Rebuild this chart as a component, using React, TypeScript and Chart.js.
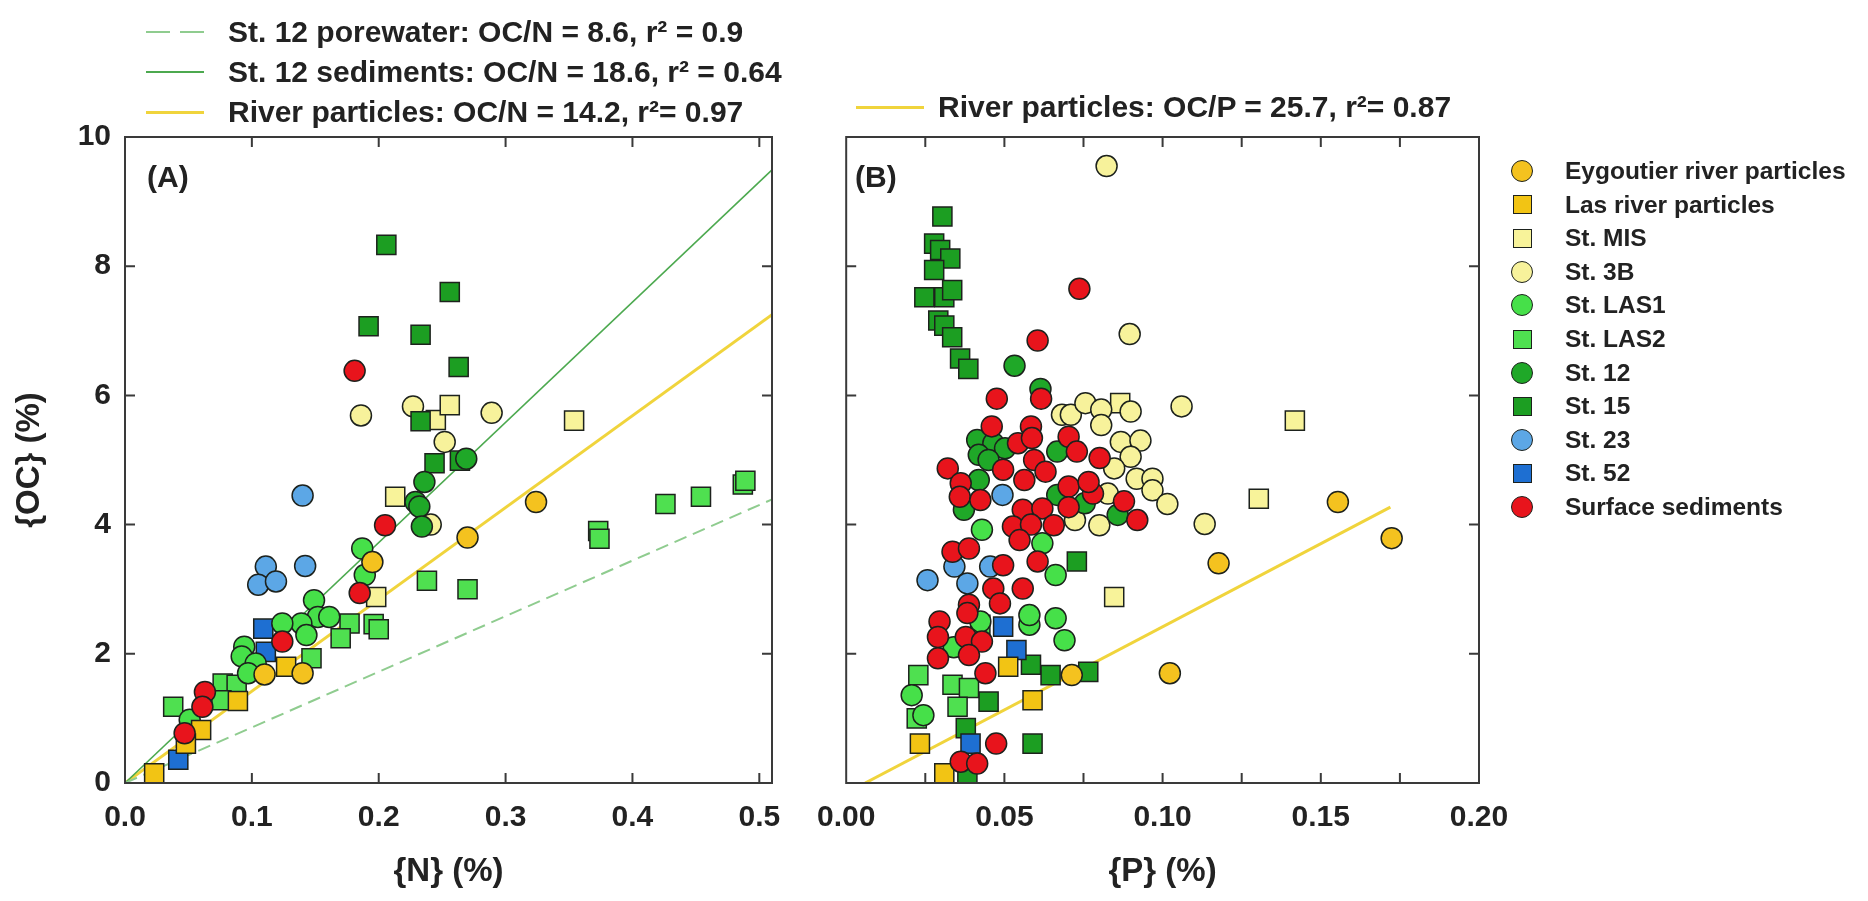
import React, { useEffect, useRef } from "react";
import { Chart, registerables } from "chart.js";

Chart.register(...registerables);

// ---------------- Panel A : {N} (%) vs {OC} (%) ----------------
const eygoutierN = [0.324, 0.27, 0.195, 0.11, 0.14];
const eygoutierOcA = [4.35, 3.8, 3.42, 1.68, 1.7];
const lasN = [0.127, 0.089, 0.06, 0.048, 0.023];
const lasOcA = [1.8, 1.27, 0.82, 0.61, 0.15];
const misN = [0.213, 0.245, 0.256, 0.354, 0.198];
const misOcA = [4.43, 5.62, 5.85, 5.61, 2.88];
const st3bN = [0.186, 0.227, 0.289, 0.252, 0.241];
const st3bOcA = [5.69, 5.83, 5.73, 5.28, 4.0];
const las1N = [0.187, 0.189, 0.149, 0.152, 0.161, 0.139, 0.143, 0.124, 0.094, 0.092, 0.103, 0.097, 0.051];
const las1OcA = [3.63, 3.22, 2.83, 2.57, 2.57, 2.47, 2.29, 2.47, 2.11, 1.96, 1.85, 1.7, 0.98];
const las2N = [0.177, 0.196, 0.2, 0.17, 0.147, 0.077, 0.088, 0.076, 0.038, 0.238, 0.27, 0.373, 0.374, 0.426, 0.454, 0.487, 0.489];
const las2OcA = [2.47, 2.46, 2.38, 2.24, 1.93, 1.54, 1.52, 1.28, 1.18, 3.13, 3.0, 3.9, 3.78, 4.32, 4.43, 4.62, 4.68];
const st12N = [0.236, 0.229, 0.232, 0.234, 0.269];
const st12OcA = [4.66, 4.35, 4.28, 3.97, 5.02];
const st15N = [0.206, 0.256, 0.192, 0.233, 0.263, 0.233, 0.244, 0.264];
const st15OcA = [8.33, 7.6, 7.07, 6.94, 6.44, 5.6, 4.95, 4.99];
const st23N = [0.14, 0.111, 0.142, 0.105, 0.119];
const st23OcA = [4.45, 3.35, 3.36, 3.07, 3.12];
const st52N = [0.109, 0.111, 0.042];
const st52OcA = [2.39, 2.03, 0.36];
const surfN = [0.181, 0.205, 0.185, 0.124, 0.063, 0.061, 0.047];
const surfOcA = [6.38, 3.99, 2.94, 2.19, 1.41, 1.18, 0.77];

// ---------------- Panel B : {P} (%) vs {OC} (%) ----------------
const eygoutierP = [0.1554, 0.1724, 0.1177, 0.1023, 0.0713];
const eygoutierOcB = [4.35, 3.79, 3.4, 1.7, 1.67];
const lasP = [0.0512, 0.0589, 0.0233, 0.031];
const lasOcB = [1.8, 1.28, 0.61, 0.15];
const misP = [0.1418, 0.1304, 0.0847, 0.0866];
const misOcB = [5.61, 4.4, 2.88, 5.88];
const st3bP = [0.0823, 0.0896, 0.106, 0.0682, 0.071, 0.0756, 0.0806, 0.0806, 0.0899, 0.0868, 0.093, 0.0899, 0.0847, 0.0918, 0.0968, 0.0968, 0.0827, 0.08, 0.1015, 0.1133, 0.0723];
const st3bOcB = [9.55, 6.95, 5.83, 5.7, 5.7, 5.88, 5.78, 5.54, 5.75, 5.28, 5.3, 5.05, 4.87, 4.71, 4.71, 4.53, 4.48, 3.99, 4.32, 4.01, 4.07];
const las1P = [0.0662, 0.0579, 0.0579, 0.0662, 0.069, 0.0207, 0.0244, 0.0424, 0.034, 0.062, 0.0429];
const las1OcB = [3.22, 2.45, 2.6, 2.55, 2.21, 1.36, 1.05, 2.5, 2.1, 3.71, 3.92];
const las2P = [0.0228, 0.0223, 0.0336, 0.0388, 0.0352, 0.0424];
const las2OcB = [1.67, 1.0, 1.52, 1.47, 1.18, 2.45];
const st12P = [0.0532, 0.0614, 0.0414, 0.0465, 0.0502, 0.0419, 0.045, 0.0667, 0.0419, 0.0372, 0.0754, 0.0858, 0.0667];
const st12OcB = [6.46, 6.1, 5.31, 5.26, 5.18, 5.08, 5.0, 5.13, 4.69, 4.23, 4.33, 4.15, 4.46];
const st15P = [0.0304, 0.0278, 0.0297, 0.0329, 0.0278, 0.0247, 0.031, 0.0335, 0.0291, 0.031, 0.0335, 0.036, 0.0386, 0.0729, 0.0584, 0.0646, 0.0765, 0.045, 0.0589, 0.0378, 0.0383];
const st15OcB = [8.77, 8.35, 8.25, 8.12, 7.94, 7.52, 7.52, 7.63, 7.16, 7.08, 6.9, 6.57, 6.41, 3.43, 1.83, 1.67, 1.72, 1.26, 0.61, 0.85, 0.07];
const st23P = [0.0494, 0.0257, 0.0342, 0.0383, 0.0455];
const st23OcB = [4.46, 3.14, 3.35, 3.09, 3.35];
const st52P = [0.0496, 0.0538, 0.0393];
const st52OcB = [2.42, 2.06, 0.61];
const surfP = [0.0737, 0.0605, 0.0616, 0.0476, 0.046, 0.0584, 0.0543, 0.0587, 0.0703, 0.0729, 0.0801, 0.0594, 0.063, 0.0496, 0.0563, 0.0321, 0.0362, 0.0359, 0.0424, 0.0703, 0.078, 0.0558, 0.062, 0.0703, 0.0878, 0.092, 0.0527, 0.0584, 0.0656, 0.0548, 0.0336, 0.0388, 0.0496, 0.0605, 0.0465, 0.0558, 0.0486, 0.0388, 0.0383, 0.0295, 0.029, 0.0378, 0.0429, 0.0388, 0.029, 0.044, 0.0474, 0.0362, 0.0414, 0.0766];
const surfOcB = [7.65, 6.85, 5.95, 5.95, 5.52, 5.52, 5.26, 5.34, 5.36, 5.13, 5.03, 5.0, 4.82, 4.85, 4.69, 4.87, 4.64, 4.43, 4.38, 4.59, 4.48, 4.23, 4.25, 4.27, 4.36, 4.07, 3.97, 4.0, 3.99, 3.76, 3.58, 3.63, 3.37, 3.43, 3.01, 3.01, 2.78, 2.76, 2.63, 2.5, 2.26, 2.26, 2.19, 1.98, 1.93, 1.7, 0.61, 0.33, 0.3, 4.66];

// ---------------- Regression lines (end points) ----------------
const porewaterLineN = [0, 0.51];
const porewaterLineOc = [0, 4.39];
const sedimentLineN = [0, 0.51];
const sedimentLineOc = [0, 9.49];
const riverLineN = [0, 0.51];
const riverLineOc = [0, 7.25];
const riverLineP = [0.006, 0.172];
const riverLinePOc = [0, 4.27];

const porewaterLabel = "St. 12 porewater: OC/N = 8.6, r\u00B2 = 0.9";
const sedimentLabel = "St. 12 sediments: OC/N = 18.6, r\u00B2 = 0.64";
const riverNLabel = "River particles: OC/N = 14.2, r\u00B2= 0.97";
const riverPLabel = "River particles: OC/P = 25.7, r\u00B2= 0.87";

// ---------------- Axes ticks ----------------
const ocTicks = [0, 2, 4, 6, 8, 10];
const ocTickLabels = ["0", "2", "4", "6", "8", "10"];
const nTicks = [0, 0.1, 0.2, 0.3, 0.4, 0.5];
const nTickLabels = ["0.0", "0.1", "0.2", "0.3", "0.4", "0.5"];
const pTicks = [0, 0.025, 0.05, 0.075, 0.1, 0.125, 0.15, 0.175, 0.2];
const pTickLabels = ["0.00", "", "0.05", "", "0.10", "", "0.15", "", "0.20"];

// ---------------- Series styles ----------------
const seriesNames = ["Eygoutier river particles", "Las river particles", "St. MIS", "St. 3B", "St. LAS1", "St. LAS2", "St. 12", "St. 15", "St. 23", "St. 52", "Surface sediments"];
const seriesShapes = ["circle", "rect", "rect", "circle", "circle", "rect", "circle", "rect", "circle", "rect", "circle"];
const seriesColors = ["#F4C21F", "#F2C414", "#F8F39A", "#F7F29B", "#46E049", "#4FE050", "#1FA828", "#1C9E22", "#5CA7E6", "#1E6FD2", "#E8141C"];
const seriesDrawOrder = [1, 2, 10, 9, 3, 6, 7, 8, 5, 4, 0];
const seriesA = [[eygoutierN, eygoutierOcA], [lasN, lasOcA], [misN, misOcA], [st3bN, st3bOcA], [las1N, las1OcA], [las2N, las2OcA], [st12N, st12OcA], [st15N, st15OcA], [st23N, st23OcA], [st52N, st52OcA], [surfN, surfOcA]];
const seriesB = [[eygoutierP, eygoutierOcB], [lasP, lasOcB], [misP, misOcB], [st3bP, st3bOcB], [las1P, las1OcB], [las2P, las2OcB], [st12P, st12OcB], [st15P, st15OcB], [st23P, st23OcB], [st52P, st52OcB], [surfP, surfOcB]];

const FONT = "'Liberation Sans', Arial, Helvetica, sans-serif";
const TEXT = "#222222";
const FRAME = "#3a3a3a";
const GREEN_LINE = "#4CA94F";
const GREEN_DASH = "#8FCC8F";
const YELLOW_LINE = "#F0D43C";

const zip = (xs: number[], ys: number[]) => xs.map((x, i) => ({ x, y: ys[i] }));

const pointDatasets = (series: number[][][]) =>
  series.map((s, i) => ({
    label: seriesNames[i],
    data: zip(s[0], s[1]),
    pointStyle: seriesShapes[i],
    pointRadius: seriesShapes[i] === "rect" ? 13.5 : 10.5,
    backgroundColor: seriesColors[i],
    borderColor: "#1d221d",
    borderWidth: 1.5,
    showLine: false,
    order: seriesDrawOrder[i],
  }));

const lineDataset = (label: string, xs: number[], ys: number[], color: string, width: number, dash: number[]) => ({
  label,
  data: zip(xs, ys),
  showLine: true,
  pointRadius: 0,
  borderColor: color,
  backgroundColor: color,
  borderWidth: width,
  borderDash: dash,
  order: 50,
});

const framePlugin = {
  id: "frameTicks",
  afterDatasetsDraw(chart: any) {
    const { ctx, chartArea } = chart;
    const { left, right, top, bottom } = chartArea;
    const xs = chart.scales.x;
    const ys = chart.scales.y;
    const L = 10;
    ctx.save();
    ctx.strokeStyle = FRAME;
    ctx.lineWidth = 2;
    ctx.beginPath();
    xs.ticks.forEach((t: any) => {
      const px = xs.getPixelForValue(t.value);
      if (px <= left + 1 || px >= right - 1) return;
      ctx.moveTo(px, bottom);
      ctx.lineTo(px, bottom - L);
      ctx.moveTo(px, top);
      ctx.lineTo(px, top + L);
    });
    ys.ticks.forEach((t: any) => {
      const py = ys.getPixelForValue(t.value);
      if (py <= top + 1 || py >= bottom - 1) return;
      ctx.moveTo(left, py);
      ctx.lineTo(left + L, py);
      ctx.moveTo(right, py);
      ctx.lineTo(right - L, py);
    });
    ctx.stroke();
    ctx.strokeRect(left, top, right - left, bottom - top);
    ctx.restore();
  },
};

const tickFont = { family: FONT, size: 30, weight: "bold" as const };
const titleFont = { family: FONT, size: 33, weight: "bold" as const };

function xScale(max: number, ticks: number[], labels: string[], title: string) {
  return {
    type: "linear" as const,
    min: 0,
    max,
    afterBuildTicks: (s: any) => {
      s.ticks = ticks.map((v) => ({ value: v }));
    },
    afterFit: (s: any) => {
      s.height = 118;
    },
    ticks: {
      callback: (_v: any, i: number) => labels[i],
      font: tickFont,
      color: TEXT,
      padding: 17,
      maxRotation: 0,
      autoSkip: false,
    },
    grid: { display: false, drawTicks: false },
    border: { display: false },
    title: { display: true, text: title, font: titleFont, color: TEXT, padding: { top: 0, bottom: 9 } },
  };
}

function yScale(showLabels: boolean, width: number) {
  return {
    type: "linear" as const,
    min: 0,
    max: 10,
    afterBuildTicks: (s: any) => {
      s.ticks = ocTicks.map((v) => ({ value: v }));
    },
    afterFit: (s: any) => {
      s.width = width;
    },
    ticks: {
      display: showLabels,
      callback: (_v: any, i: number) => ocTickLabels[i],
      font: tickFont,
      color: TEXT,
      padding: 14,
      autoSkip: false,
    },
    grid: { display: false, drawTicks: false },
    border: { display: false },
    title: { display: showLabels, text: "{OC} (%)", font: titleFont, color: TEXT, padding: { top: 10, bottom: 0 } },
  };
}

function baseOptions(padding: any, x: any, y: any) {
  return {
    responsive: false,
    animation: false as const,
    events: [] as any[],
    layout: { padding },
    plugins: { legend: { display: false }, tooltip: { enabled: false } },
    scales: { x, y },
  };
}

const legendText: React.CSSProperties = {
  position: "absolute",
  font: `bold 30px ${FONT}`,
  color: TEXT,
  whiteSpace: "nowrap",
  lineHeight: "30px",
};

function LineKey({ x, y, w, color, dashed, thick }: any) {
  const style: React.CSSProperties = {
    position: "absolute",
    left: x,
    top: y - (thick ? 1.5 : 1),
    width: w,
    height: thick ? 3 : 2,
    background: dashed ? `repeating-linear-gradient(90deg, ${color} 0 24px, transparent 24px 34px)` : color,
  };
  return <div style={style} />;
}

export default function App() {
  const refA = useRef<HTMLCanvasElement>(null);
  const refB = useRef<HTMLCanvasElement>(null);

  useEffect(() => {
    const chartA = new Chart(refA.current as HTMLCanvasElement, {
      type: "scatter",
      data: {
        datasets: [
          ...pointDatasets(seriesA),
          lineDataset(porewaterLabel, porewaterLineN, porewaterLineOc, GREEN_DASH, 2, [13, 7]),
          lineDataset(sedimentLabel, sedimentLineN, sedimentLineOc, GREEN_LINE, 1.6, []),
          lineDataset(riverNLabel, riverLineN, riverLineOc, YELLOW_LINE, 3, []),
        ] as any,
      },
      options: baseOptions(
        { left: 0, top: 137, right: 28, bottom: 0 },
        xScale(0.51, nTicks, nTickLabels, "{N} (%)"),
        yScale(true, 125)
      ) as any,
      plugins: [framePlugin],
    });
    const chartB = new Chart(refB.current as HTMLCanvasElement, {
      type: "scatter",
      data: {
        datasets: [
          ...pointDatasets(seriesB),
          lineDataset(riverPLabel, riverLineP, riverLinePOc, YELLOW_LINE, 3, []),
        ] as any,
      },
      options: baseOptions(
        { left: 0, top: 137, right: 61, bottom: 0 },
        xScale(0.2, pTicks, pTickLabels, "{P} (%)"),
        yScale(false, 33)
      ) as any,
      plugins: [framePlugin],
    });
    return () => {
      chartA.destroy();
      chartB.destroy();
    };
  }, []);

  const rowY0 = 171;
  const rowStep = 33.6;

  return (
    <div style={{ position: "absolute", left: 0, top: 0, width: 1868, height: 901, background: "#ffffff", overflow: "hidden", fontFamily: FONT }}>
      <canvas ref={refA} width={800} height={901} style={{ position: "absolute", left: 0, top: 0 }} />
      <canvas ref={refB} width={740} height={901} style={{ position: "absolute", left: 800, top: 0 }} />

      {/* top-left line legend */}
      <LineKey x={146} y={32} w={58} color={GREEN_DASH} dashed />
      <div style={{ ...legendText, left: 228, top: 17 }}>{porewaterLabel}</div>
      <LineKey x={146} y={72} w={58} color={GREEN_LINE} />
      <div style={{ ...legendText, left: 228, top: 57 }}>{sedimentLabel}</div>
      <LineKey x={146} y={112} w={58} color={YELLOW_LINE} thick />
      <div style={{ ...legendText, left: 228, top: 97 }}>{riverNLabel}</div>

      {/* panel B line legend */}
      <LineKey x={856} y={107} w={68} color={YELLOW_LINE} thick />
      <div style={{ ...legendText, left: 938, top: 92 }}>{riverPLabel}</div>

      {/* panel letters */}
      <div style={{ ...legendText, left: 147, top: 162 }}>(A)</div>
      <div style={{ ...legendText, left: 855, top: 162 }}>(B)</div>

      {/* right marker legend */}
      {seriesNames.map((name, i) => {
        const cy = rowY0 + i * rowStep;
        const isRect = seriesShapes[i] === "rect";
        const size = isRect ? 19 : 22;
        return (
          <React.Fragment key={name}>
            <div
              style={{
                position: "absolute",
                left: 1522 - size / 2,
                top: cy - size / 2,
                width: size,
                height: size,
                boxSizing: "border-box",
                border: "1.5px solid #1d221d",
                borderRadius: isRect ? 0 : "50%",
                background: seriesColors[i],
              }}
            />
            <div style={{ ...legendText, font: `bold 24.5px ${FONT}`, lineHeight: "26px", left: 1565, top: cy - 13 }}>{name}</div>
          </React.Fragment>
        );
      })}
    </div>
  );
}
